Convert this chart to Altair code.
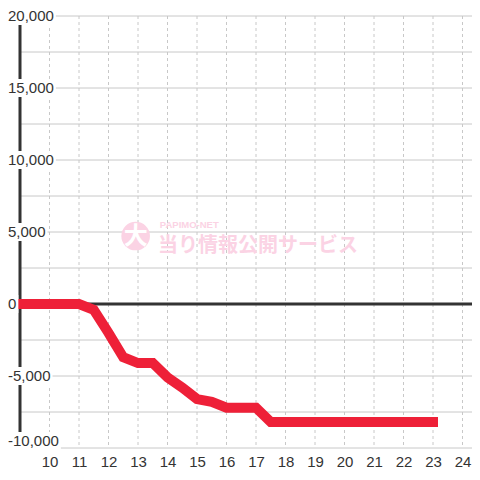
import altair as alt
import pandas as pd

# ---- data ----
hours = [9, 11, 11.5, 12, 12.5, 13, 13.5, 14, 14.5, 15, 15.5, 16, 16.5, 17, 17.5, 23]
values = [0, 0, -400, -2000, -3700, -4100, -4100, -5100, -5800, -6600, -6800, -7200, -7200, -7200, -8200, -8200]

x_ticks = list(range(10, 25))
y_grid = list(range(-10000, 20001, 2500))
y_labels = [20000, 15000, 10000, 5000, 0, -5000, -10000]
y_label_text = ["20,000", "15,000", "10,000", "5,000", "0", "-5,000", "-10,000"]
y_label_shift = [0, 0, 0, 0, 0, 0, -7]   # bottom label nudged up

W, H = 452, 432
XD = [9, 9 + W / 29.5]
YD = [-10000, 20000]
PX = (YD[1] - YD[0]) / H  # value per pixel


def text_width(s):
    w = 0.0
    for c in s:
        w += 8.34 if c.isdigit() else (4.17 if c == "," else 5.0)
    return w


xs = alt.Scale(domain=XD, nice=False, zero=False)
ys = alt.Scale(domain=YD, nice=False, zero=False)

line_df = pd.DataFrame({"h": hours, "v": values})
vgrid_df = pd.DataFrame({"h": x_ticks})
hgrid_df = pd.DataFrame({"v": y_grid})
lab_df = pd.DataFrame({
    "v": y_labels, "t": y_label_text,
    "vc": [v - s * PX for v, s in zip(y_labels, y_label_shift)],
})
lab_df["lo"] = lab_df["vc"] - 9 * PX
lab_df["hi"] = lab_df["vc"] + 9 * PX
lab_df["w"] = [text_width(t) + 2 for t in y_label_text]
zero_df = pd.DataFrame({"v": [0]})
axis_df = pd.DataFrame({"h": [9], "lo": [YD[0]], "hi": [YD[1]]})

LX = -12  # left edge of y labels relative to plot

XAX = alt.Axis(values=x_ticks, labelFontSize=15, labelColor="#333",
               labelFont="Liberation Sans", domain=False, ticks=False,
               grid=False, labelPadding=6, title=None, labelOverlap=False)


def X(field):
    return alt.X(field, scale=xs, axis=XAX)


vgrid = alt.Chart(vgrid_df).mark_rule(color="#c8c8c8", strokeDash=[3, 3], strokeWidth=1).encode(
    x=X("h:Q"),
)

hgrid = alt.Chart(hgrid_df).mark_rule(color="#c8c8c8", strokeWidth=1).encode(
    y=alt.Y("v:Q", scale=ys, axis=None),
)

zero = alt.Chart(zero_df).mark_rule(color="#333", strokeWidth=3).encode(
    y=alt.Y("v:Q", scale=ys, axis=None),
)

yaxis_line = alt.Chart(axis_df).mark_rule(color="#333", strokeWidth=3).encode(
    x=X("h:Q"), y=alt.Y("lo:Q", scale=ys, axis=None), y2="hi:Q",
)

PINK = "#fbd3e4"
wm_circle = alt.Chart(pd.DataFrame({"h": [12.92], "v": [4720]})).mark_point(
    filled=True, size=820, color=PINK, opacity=1, shape="circle").encode(
    x=X("h:Q"), y=alt.Y("v:Q", scale=ys, axis=None))
wm_big = alt.Chart(pd.DataFrame({"h": [12.92], "v": [4720], "t": ["大"]})).mark_text(
    font="Noto Sans CJK JP", fontWeight="bold", fontSize=24, color="white", dy=1).encode(
    x=X("h:Q"), y=alt.Y("v:Q", scale=ys, axis=None), text="t:N")
wm_small = alt.Chart(pd.DataFrame({"h": [13.74], "v": [5500], "t": ["PAPIMO-NET"]})).mark_text(
    font="Liberation Sans", fontWeight="bold", fontSize=9.5, color=PINK, align="left").encode(
    x=X("h:Q"), y=alt.Y("v:Q", scale=ys, axis=None), text="t:N")
wm_main = alt.Chart(pd.DataFrame({"h": [13.68], "v": [4000], "t": ["当り情報公開サービス"]})).mark_text(
    font="Noto Sans CJK JP", fontWeight="bold", fontSize=20, color=PINK, align="left").encode(
    x=X("h:Q"), y=alt.Y("v:Q", scale=ys, axis=None), text="t:N")

red = alt.Chart(line_df).mark_line(color="#ee2038", strokeWidth=10, strokeJoin="miter",
                                   strokeCap="square").encode(
    x=X("h:Q"), y=alt.Y("v:Q", scale=ys, axis=None),
)

layers = [vgrid, hgrid, yaxis_line, wm_circle, wm_big, wm_small, wm_main, zero, red]
for i in range(len(y_labels)):
    row = lab_df.iloc[[i]]
    bg = alt.Chart(row).mark_rect(color="white").encode(
        y=alt.Y("lo:Q", scale=ys, axis=None), y2="hi:Q",
        x=alt.value(LX - 1), x2=alt.value(LX + float(row["w"].iloc[0])),
    )
    tx = alt.Chart(row).mark_text(align="left", baseline="middle", fontSize=15,
                                  font="Liberation Sans", color="#333").encode(
        y=alt.Y("vc:Q", scale=ys, axis=None), x=alt.value(LX), text="t:N")
    layers += [bg, tx]

chart = alt.layer(*layers).properties(
    width=W, height=H,
    autosize=alt.AutoSizeParams(type="none"),
    padding={"left": 12, "top": 8, "right": 0, "bottom": 22},
).configure_view(stroke=None).configure_axisX(labelOverlap=False)

chart.save("out.html", embed_options={"renderer": "svg", "actions": False})
